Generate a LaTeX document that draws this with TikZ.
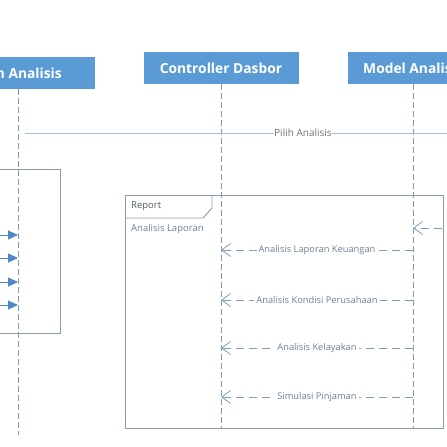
\documentclass[tikz,border=0pt]{standalone}
\usepackage{fontspec}
\setmainfont{Open Sans}
\usetikzlibrary{arrows.meta}
\definecolor{hdr}{HTML}{5B9BD5}
\definecolor{frm}{HTML}{8A9BAE}
\definecolor{lif}{HTML}{7F9DB5}
\definecolor{lbl}{HTML}{6E8194}
\definecolor{msgc}{HTML}{9DC3E6}
\definecolor{arr}{HTML}{4F8AC6}
\begin{document}
\begin{tikzpicture}[x=1pt,y=-1pt,
  hdrbox/.style={draw=none, fill=hdr, minimum height=32pt, inner sep=0pt},
  hdrtxt/.style={text=white, font=\bfseries\fontsize{13.8}{16}\selectfont, inner sep=0pt},
  lifeline/.style={draw=lif, line width=0.8pt, dash pattern=on 6pt off 3pt},
  reply/.style={draw=lif, line width=0.8pt, dash pattern=on 8pt off 5pt, -{Straight Barb[length=9pt,width=13pt]}},
  rlabel/.style={fill=white, text=lbl, font=\fontsize{9.3}{11}\selectfont, inner xsep=2pt, inner ysep=0.4pt},
  frame/.style={draw=frm, line width=0.9pt},
  callmsg/.style={draw=arr, line width=0.9pt, -{Triangle[length=10pt,width=9pt]}},
  msgline/.style={draw=msgc, line width=0.9pt},
  ftxt/.style={text=lbl, font=\fontsize{9.5}{11}\selectfont, inner sep=0pt, anchor=west}
]
\useasboundingbox (0,0) rectangle (447,447);
\clip (0,0) rectangle (447,447);

% frames
\draw[frame] (-5,169) -- (60,169) -- (60,333) -- (-5,333);
\draw[frame] (125,195) rectangle (443,428);
\draw[frame] (125,218) -- (203,218) -- (212,208) -- (212,195);
\node[ftxt, text=frm!60!black] (rep) at (131,206.5) {Report};
\node[ftxt] (alap) at (131,229) {Analisis Laporan};

% headers
\node[hdrbox, minimum width=154pt] (hL) at (18,73) {};
\node[hdrtxt, anchor=east] (tL) at (62,73) {m Analisis};
\node[hdrbox, minimum width=155pt] (hC) at (221,68) {};
\node[hdrtxt] (tC) at (hC) {Controller Dasbor};
\node[hdrbox, minimum width=130pt] (hM) at (413,68) {};
\node[hdrtxt] (tM) at (hM) {Model Analisis};

% lifelines
\coordinate (lLb) at (18,435);
\coordinate (lCb) at (221,428);
\coordinate (lMb) at (413,428);
\draw[lifeline] (hL.south) -- (lLb);
\draw[lifeline] (hC.south) -- (lCb);
\draw[lifeline] (hM.south) -- (lMb);

% Pilih Analisis
\coordinate (pS) at (25,133);
\coordinate (pE) at (460,133);
\draw[msgline] (pS) -- node[pos=0.639, fill=white, inner sep=0.4pt, text=black!55, font=\fontsize{10}{12}\selectfont] (pl) {Pilih Analisis} (pE);

% calls into left lifeline
\foreach \i/\yy in {1/235,2/258,3/282,4/305}{
  \coordinate (cS\i) at (-5,\yy);
  \coordinate (cE\i) at (18,\yy);
  \draw[callmsg] (cS\i) -- (cE\i);
}

% incoming message on model
\coordinate (sS) at (455,228);
\coordinate (sE) at (413,228);
\draw[reply] (sS) -- (sE);

% replies
\foreach \i/\yy/\txt in {1/250/Analisis Laporan Keuangan,2/300/Analisis Kondisi Perusahaan,3/348/Analisis Kelayakan,4/397/Simulasi Pinjaman}{
  \coordinate (rS\i) at (413,\yy);
  \coordinate (rE\i) at (221,\yy);
  \draw[reply] (rS\i) -- node[rlabel] (rl\i) {\txt} (rE\i);
}
\end{tikzpicture}
\end{document}
